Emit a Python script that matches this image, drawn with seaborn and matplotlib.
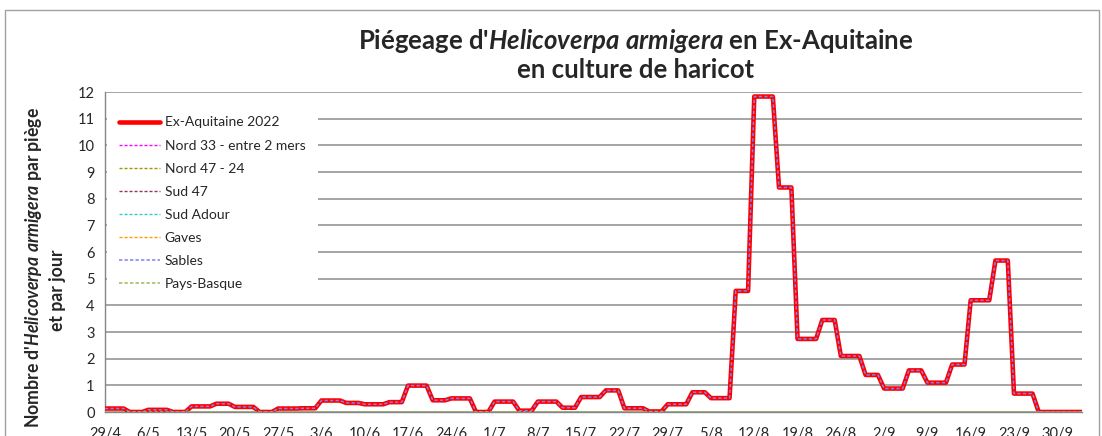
import pandas as pd
import matplotlib.pyplot as plt
from matplotlib.patches import Rectangle
import seaborn as sns

# Style général
sns.set_theme(style="white")
plt.rcParams['font.family'] = ['Lato', 'DejaVu Sans']
plt.rcParams['mathtext.fontset'] = 'custom'
plt.rcParams['mathtext.it'] = 'Lato:italic:bold'
plt.rcParams['mathtext.rm'] = 'Lato:bold'

ANNEE = 2022

# Périodes entre deux relevés (début / fin) et valeur par piège et par jour
debut = ["29/4", "3/5", "6/5", "10/5", "13/5", "17/5", "20/5", "24/5",
         "27/5", "31/5", "3/6", "7/6", "10/6", "14/6", "17/6", "21/6",
         "24/6", "28/6", "1/7", "5/7", "8/7", "12/7", "15/7", "19/7",
         "22/7", "26/7", "29/7", "2/8", "5/8", "9/8", "12/8", "16/8",
         "19/8", "23/8", "26/8", "30/8", "2/9", "6/9", "9/9", "13/9",
         "16/9", "20/9", "23/9", "27/9", "30/9"]
fin = ["2/5", "5/5", "9/5", "12/5", "16/5", "19/5", "23/5", "26/5",
       "30/5", "2/6", "6/6", "9/6", "13/6", "16/6", "20/6", "23/6",
       "27/6", "30/6", "4/7", "7/7", "11/7", "14/7", "18/7", "21/7",
       "25/7", "28/7", "1/8", "4/8", "8/8", "11/8", "15/8", "18/8",
       "22/8", "25/8", "29/8", "1/9", "5/9", "8/9", "12/9", "15/9",
       "19/9", "22/9", "26/9", "29/9", "4/10"]
ex_aquitaine = [0.13, 0.0, 0.08, 0.0, 0.21, 0.31, 0.19, 0.0,
                0.13, 0.14, 0.43, 0.34, 0.29, 0.37, 0.99, 0.44,
                0.51, 0.0, 0.39, 0.05, 0.39, 0.16, 0.56, 0.81,
                0.14, 0.02, 0.29, 0.74, 0.52, 4.54, 11.83, 8.42,
                2.74, 3.45, 2.10, 1.39, 0.88, 1.56, 1.10, 1.78,
                4.19, 5.68, 0.69, 0.0, 0.0]
# seul le secteur Sables a des relevés : il se confond avec la moyenne
sables = ex_aquitaine
pays_basque_dates = ["29/4", "4/10"]
pays_basque = [0.0, 0.0]

tick_dates = ["29/4", "6/5", "13/5", "20/5", "27/5", "3/6", "10/6", "17/6",
              "24/6", "1/7", "8/7", "15/7", "22/7", "29/7", "5/8", "12/8",
              "19/8", "26/8", "2/9", "9/9", "16/9", "23/9", "30/9"]

# secteurs sans relevé (présents seulement en légende)
autres = ["Nord 33 - entre 2 mers", "Nord 47 - 24", "Sud 47", "Sud Adour", "Gaves"]
couleurs_autres = ["#FF00FF", "#999900", "#993366", "#33CCCC", "#FF9900"]


def to_dates(liste):
    return pd.to_datetime([f"{d}/{ANNEE}" for d in liste], format="%d/%m/%Y")


def paliers(deb, fi, vals):
    """Construit la courbe en paliers (début et fin de chaque période)"""
    dates, valeurs = [], []
    for d, f, v in zip(deb, fi, vals):
        dates += [d, f]
        valeurs += [v, v]
    return pd.DataFrame({"date": to_dates(dates), "valeur": valeurs})


df_ex = paliers(debut, fin, ex_aquitaine)
df_sables = paliers(debut, fin, sables)
df_pb = pd.DataFrame({"date": to_dates(pays_basque_dates), "valeur": pays_basque})

fig = plt.figure(figsize=(11.02, 4.36), dpi=100)
ax = fig.add_axes([105 / 1102, 24 / 436, 977 / 1102, 320 / 436])

dash = (0, (2.2, 1.4))
sns.lineplot(data=df_ex, x="date", y="valeur", color="#FF0000", linewidth=3.3,
             estimator=None, sort=False, label="Ex-Aquitaine 2022", ax=ax, zorder=3)
for nom, c in zip(autres, couleurs_autres):
    ax.plot([], [], color=c, linewidth=1, linestyle=dash, label=nom)
sns.lineplot(data=df_sables, x="date", y="valeur", color="#8080F0", linewidth=1.1,
             linestyle=dash, estimator=None, sort=False, label="Sables", ax=ax, zorder=4)
sns.lineplot(data=df_pb, x="date", y="valeur", color="#9BBB59", linewidth=1.1,
             linestyle=dash, estimator=None, sort=False, label="Pays-Basque", ax=ax, zorder=5)

ax.set_xlim(to_dates(["29/4", "4/10"]))
ax.set_ylim(0, 12)
ax.set_yticks(range(0, 13))
ax.set_xticks(to_dates(tick_dates))
ax.set_xticklabels(tick_dates)
ax.set_xlabel("")
ax.set_ylabel("")
ax.tick_params(axis="x", direction="out", length=5, width=1, color="#868686",
               labelsize=10.5, pad=6)
ax.tick_params(axis="y", direction="inout", length=7, width=1, color="#868686",
               labelsize=10.5, pad=4)
ax.grid(axis="y", color="#8C8C8C", linewidth=1.1)
ax.set_axisbelow(True)
for s in ["top", "right"]:
    ax.spines[s].set_visible(False)
for s in ["left", "bottom"]:
    ax.spines[s].set_color("#868686")
    ax.spines[s].set_linewidth(1)

leg = ax.legend(loc="upper left", bbox_to_anchor=(107 / 1102, 1 - 104 / 436),
                bbox_transform=fig.transFigure, borderaxespad=0, borderpad=0.9,
                fontsize=10, labelspacing=0.8, handlelength=2.9, handletextpad=0.35,
                frameon=True, fancybox=False, facecolor="white", edgecolor="none",
                framealpha=1)

# Titre et axe Y
fig.text(636 / 1102, 1 - 41 / 436, r"Piégeage d'$\mathit{Helicoverpa\ armigera}$ en Ex-Aquitaine",
         ha="center", va="center", fontsize=18.5, fontweight="bold")
fig.text(636 / 1102, 1 - 70 / 436, "en culture de haricot",
         ha="center", va="center", fontsize=18.5, fontweight="bold")
fig.text(34 / 1102, 1 - 268 / 436, r"Nombre d'$\mathit{Helicoverpa\ armigera}$ par piège",
         ha="center", va="center", rotation=90, fontsize=12.7, fontweight="bold")
fig.text(57 / 1102, 1 - 290 / 436, "et par jour",
         ha="center", va="center", rotation=90, fontsize=12.7, fontweight="bold")

# cadre du graphique
fig.patches.append(Rectangle((5 / 1102, -0.05), 1094 / 1102, (426 / 436) + 0.05,
                             transform=fig.transFigure, fill=False,
                             edgecolor="#A0A0A0", linewidth=1))

fig.savefig("out.png", dpi=100)
